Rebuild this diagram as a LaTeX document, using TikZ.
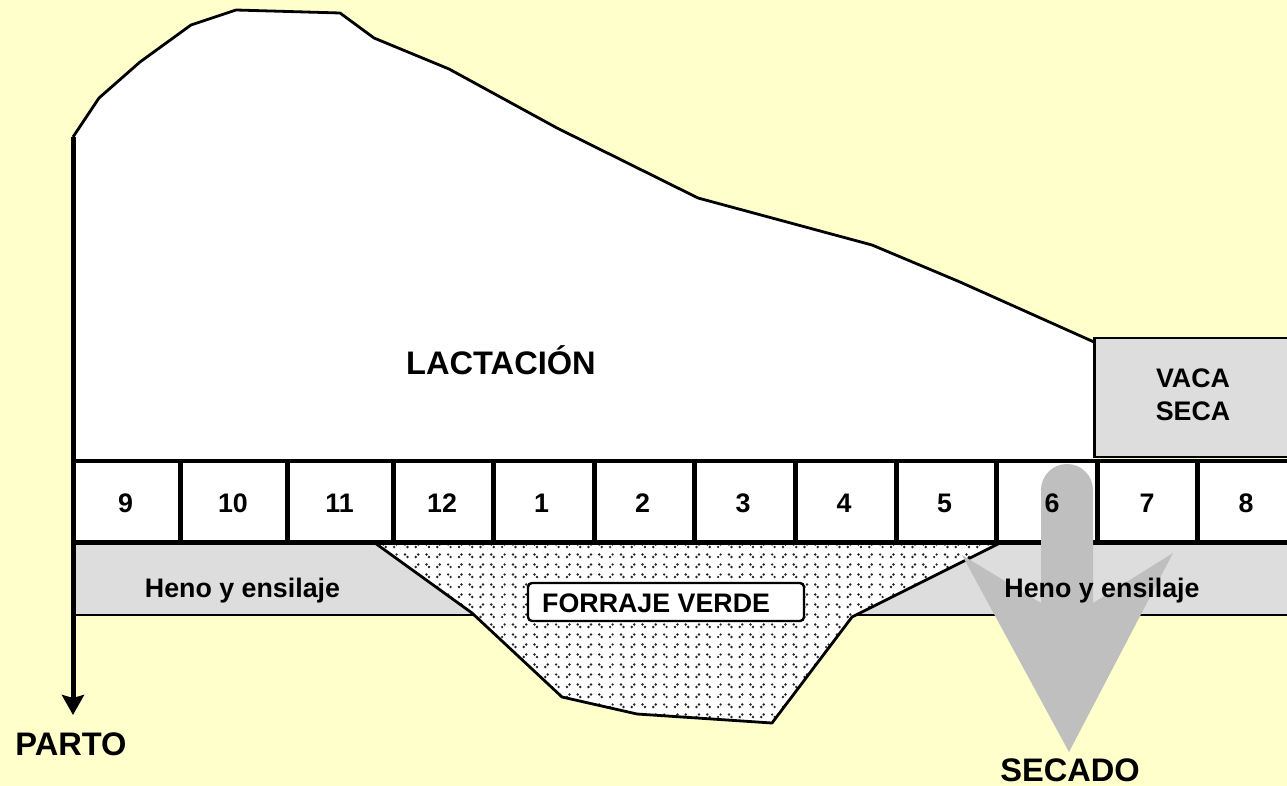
\documentclass[tikz,border=0pt]{standalone}
\usepackage{fontspec}
\setmainfont{Liberation Sans}
\usetikzlibrary{arrows.meta}
\definecolor{bgyellow}{HTML}{FFFFCC}
\definecolor{bandgray}{HTML}{DDDDDD}
\definecolor{arrowgray}{HTML}{BFBFBF}
\begin{document}
\begin{tikzpicture}[x=1pt,y=-1pt,
  bigtxt/.style={font=\fontsize{32.6}{38}\selectfont\bfseries, inner sep=0pt, anchor=base},
  smalltxt/.style={font=\fontsize{26.8}{33}\selectfont\bfseries, inner sep=0pt, anchor=base},
  curveline/.style={line width=2.8pt, line join=round},
  cellline/.style={line width=5pt},
  bandline/.style={line width=2.2pt},
  grassdot/.style={fill=black!85},
  fvbox/.style={draw, fill=white, line width=2.4pt, rounded corners=4pt, minimum width=276pt, minimum height=38pt, inner sep=0pt},
  partoarrow/.style={line width=5pt, -{Stealth[length=20pt,width=22pt,inset=3pt]}}
]
\useasboundingbox (0,0) rectangle (1287,786);
\fill[bgyellow] (0,0) rectangle (1287,786);
\clip (0,0) rectangle (1287,786);

% lactation area
\fill[white] (73,461) -- (73,137) -- (99,98) -- (140,62) -- (191,25) -- (236,10) -- (340,13) -- (374,38) -- (449,69) -- (557,128) -- (698,198) -- (872,245) -- (960,282) -- (1094,342) -- (1094,461) -- cycle;
\draw[curveline] (73,137) -- (99,98) -- (140,62) -- (191,25) -- (236,10) -- (340,13) -- (374,38) -- (449,69) -- (557,128) -- (698,198) -- (872,245) -- (960,282) -- (1094,342);

% vaca seca box
\draw[fill=bandgray, line width=2.6pt] (1094.5,338) rectangle (1300,457);

% heno band
\fill[bandgray] (73,542) rectangle (1300,615);
\draw[bandline] (73,615) -- (1300,615);

% forraje verde region
\fill[white] (375,543) -- (472,613) -- (562,697) -- (637,714) -- (772,723) -- (852,617) -- (1000,543) -- cycle;
\begin{scope}
  \clip (375,543) -- (472,613) -- (562,697) -- (637,714) -- (772,723) -- (852,617) -- (1000,543) -- cycle;
  \foreach \row in {0,...,18} {
    \foreach \col in {0,...,29} {
      \pgfmathsetmacro{\bx}{370+21.6*\col}
      \pgfmathsetmacro{\by}{546+10*\row}
      \fill[grassdot] (\bx+2.5,\by+1) circle (1.35pt);
      \fill[grassdot] (\bx+5,\by-1.5) circle (1.35pt);
      \fill[grassdot] (\bx+13.3,\by-1.5) circle (1.35pt);
      \fill[grassdot] (\bx+15.8,\by+1) circle (1.35pt);
    }
  }
\end{scope}
\draw[curveline] (375,543) -- (472,613) -- (562,697) -- (637,714) -- (772,723) -- (852,617) -- (1000,543);

% cell grid
\fill[white] (73,461) rectangle (1300,542.5);
\draw[line width=3.6pt] (73,461) -- (1300,461);
\draw[cellline] (73,542.5) -- (1300,542.5);
\foreach \xx in {180,287,393,493.5,594.5,694.5,795.5,896,996.5,1097,1197.5}
  \draw[cellline] (\xx,461) -- (\xx,542.5);

% forraje verde label
\node[fvbox] (fvb) at (666,602) {};
\node[smalltxt, anchor=base west] (fvt) at (542,612) {FORRAJE VERDE};

% secado arrow
\fill[arrowgray] (1041,603) -- (1041,490)
  .. controls (1041,475.6) and (1052.6,464) .. (1067,464)
  .. controls (1081.4,464) and (1093,475.6) .. (1093,490)
  -- (1093,603) -- (1173,553) -- (1069,752) -- (962,555) -- cycle;

% month numbers
\node[smalltxt] (m9) at (125.5,512) {9};
\node[smalltxt] (m10) at (233,512) {10};
\node[smalltxt] (m11) at (339.5,512) {11};
\node[smalltxt] (m12) at (442,512) {12};
\node[smalltxt] (m1) at (541.5,512) {1};
\node[smalltxt] (m2) at (642.5,512) {2};
\node[smalltxt] (m3) at (743,512) {3};
\node[smalltxt] (m4) at (844,512) {4};
\node[smalltxt] (m5) at (944.5,512) {5};
\node[smalltxt] (m6) at (1052,512) {6};
\node[smalltxt] (m7) at (1147,512) {7};
\node[smalltxt] (m8) at (1246,512) {8};

% labels
\node[smalltxt] (henoL) at (242.5,597) {Heno y ensilaje};
\node[smalltxt] (henoR) at (1102,597) {Heno y ensilaje};
\node[bigtxt] (lact) at (501,374) {LACTACIÓN};
\node[smalltxt] (vaca) at (1193,387) {VACA};
\node[smalltxt] (seca) at (1193,420) {SECA};
\node[bigtxt] (parto) at (71,755) {PARTO};
\node[bigtxt] (secado) at (1070,781) {SECADO};

% parto arrow
\coordinate (partotop) at (73,137);
\coordinate (partotip) at (73,715);
\draw[partoarrow] (partotop) -- (partotip);
\end{tikzpicture}
\end{document}
